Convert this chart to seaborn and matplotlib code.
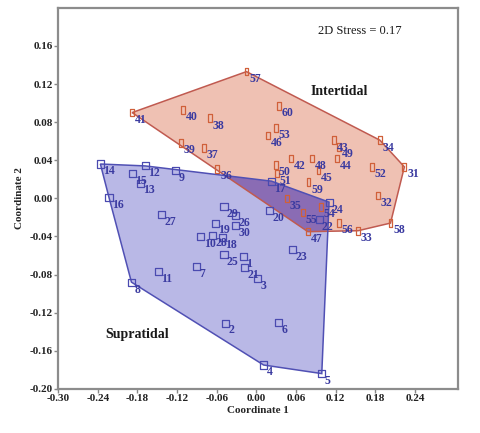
import pandas as pd
import seaborn as sns
import matplotlib.pyplot as plt
from matplotlib.patches import Polygon

# NMDS coordinates
sup_ids = list(range(1, 31))
sup_x = [-0.020, -0.046, 0.002, 0.011, 0.099, 0.034, -0.091, -0.189, -0.122, -0.084,
         -0.148, -0.168, -0.175, -0.236, -0.187, -0.223, 0.023, -0.051, -0.062, 0.020,
         -0.018, 0.095, 0.055, 0.110, -0.049, -0.031, -0.143, -0.066, -0.049, -0.031]
sup_y = [-0.061, -0.131, -0.084, -0.175, -0.184, -0.130, -0.072, -0.088, 0.029, -0.040,
         -0.077, 0.034, 0.016, 0.036, 0.026, 0.001, 0.018, -0.041, -0.026, -0.013,
         -0.073, -0.022, -0.054, -0.004, -0.059, -0.018, -0.017, -0.039, -0.009, -0.029]

int_ids = list(range(31, 61))
int_x = [0.224, 0.184, 0.154, 0.187, 0.046, -0.059, -0.079, -0.070, -0.114, -0.111,
         -0.188, 0.053, 0.117, 0.122, 0.094, 0.018, 0.078, 0.084, 0.125, 0.030,
         0.031, 0.175, 0.030, 0.098, 0.070, 0.125, -0.015, 0.203, 0.079, 0.034]
int_y = [0.033, 0.003, -0.034, 0.061, 0.000, 0.031, 0.053, 0.084, 0.058, 0.093,
         0.090, 0.042, 0.061, 0.042, 0.029, 0.066, -0.035, 0.042, 0.054, 0.035,
         0.026, 0.033, 0.074, -0.009, -0.015, -0.026, 0.133, -0.026, 0.017, 0.097]

x_ticks = [-0.30, -0.24, -0.18, -0.12, -0.06, 0.00, 0.06, 0.12, 0.18, 0.24]
y_ticks = [-0.20, -0.16, -0.12, -0.08, -0.04, 0.00, 0.04, 0.08, 0.12, 0.16]

sup = pd.DataFrame({'id': sup_ids, 'x': sup_x, 'y': sup_y})
inter = pd.DataFrame({'id': int_ids, 'x': int_x, 'y': int_y})


def convex_hull(xs, ys):
    pts = sorted(set(zip(xs, ys)))

    def cross(o, a, b):
        return (a[0] - o[0]) * (b[1] - o[1]) - (a[1] - o[1]) * (b[0] - o[0])

    lower, upper = [], []
    for p in pts:
        while len(lower) >= 2 and cross(lower[-2], lower[-1], p) <= 0:
            lower.pop()
        lower.append(p)
    for p in reversed(pts):
        while len(upper) >= 2 and cross(upper[-2], upper[-1], p) <= 0:
            upper.pop()
        upper.append(p)
    return lower[:-1] + upper[:-1]


sns.set_theme(style='white')
plt.rcParams['font.family'] = ['Liberation Serif', 'DejaVu Serif']

fig = plt.figure(figsize=(4.8, 4.33), dpi=100)
ax = fig.add_axes([0.121, 0.102, 0.833, 0.880])

# hulls (overlap drawn by clipping the intertidal hull to the supratidal one)
hull_int = convex_hull(inter['x'], inter['y'])
hull_sup = convex_hull(sup['x'], sup['y'])

p_int = Polygon(hull_int, closed=True, facecolor='#efc1b3', edgecolor='none', zorder=1)
p_sup = Polygon(hull_sup, closed=True, facecolor='#b9b8e6', edgecolor='none', zorder=1)
ax.add_patch(p_int)
ax.add_patch(p_sup)
overlap = Polygon(hull_int, closed=True, facecolor='#8a6cb4', edgecolor='none', zorder=2)
ax.add_patch(overlap)
overlap.set_clip_path(p_sup)
ax.add_patch(Polygon(hull_int, closed=True, fill=False, edgecolor='#c05a50', lw=1.1, zorder=3))
ax.add_patch(Polygon(hull_sup, closed=True, fill=False, edgecolor='#5050b4', lw=1.1, zorder=3))

# points
rect = [(-0.5, -1), (0.5, -1), (0.5, 1), (-0.5, 1), (-0.5, -1)]
sns.scatterplot(data=sup, x='x', y='y', marker='s', s=26, facecolor='none',
                edgecolor='#4a4ab0', linewidth=0.9, ax=ax, zorder=4)
sns.scatterplot(data=inter, x='x', y='y', marker=rect, s=30, facecolor='none',
                edgecolor='#d0603a', linewidth=0.9, ax=ax, zorder=4)

for df in (sup, inter):
    for _, r in df.iterrows():
        ax.annotate(str(int(r['id'])), (r['x'], r['y']), xytext=(2, -1),
                    textcoords='offset points', ha='left', va='top',
                    fontsize=8.5, fontweight='bold', color='#3a3aa0', zorder=5)

ax.text(0.125, 0.112, 'Intertidal', ha='center', va='center', fontsize=10,
        fontweight='bold', color='#1a1a1a')
ax.text(-0.180, -0.143, 'Supratidal', ha='center', va='center', fontsize=10,
        fontweight='bold', color='#1a1a1a')
ax.text(0.157, 0.176, '2D Stress = 0.17', ha='center', va='center', fontsize=9,
        color='#1a1a1a')

ax.set_xlim(-0.30, 0.305)
ax.set_ylim(-0.20, 0.20)
ax.set_xticks(x_ticks)
ax.set_yticks(y_ticks)
ax.set_xticklabels([f'{v:.2f}' for v in x_ticks], fontsize=8, fontweight='bold')
ax.set_yticklabels([f'{v:.2f}' for v in y_ticks], fontsize=8, fontweight='bold')
ax.tick_params(direction='out', length=3, width=1, color='#888888', pad=1,
               labelcolor='#222222', bottom=True, left=True)
ax.set_xlabel('Coordinate 1', fontsize=8, fontweight='bold', labelpad=2)
ax.set_ylabel('Coordinate 2', fontsize=8, fontweight='bold', labelpad=4)
for s in ax.spines.values():
    s.set_color('#8c8c8c')
    s.set_linewidth(1.6)

fig.savefig('out.png', dpi=100)
